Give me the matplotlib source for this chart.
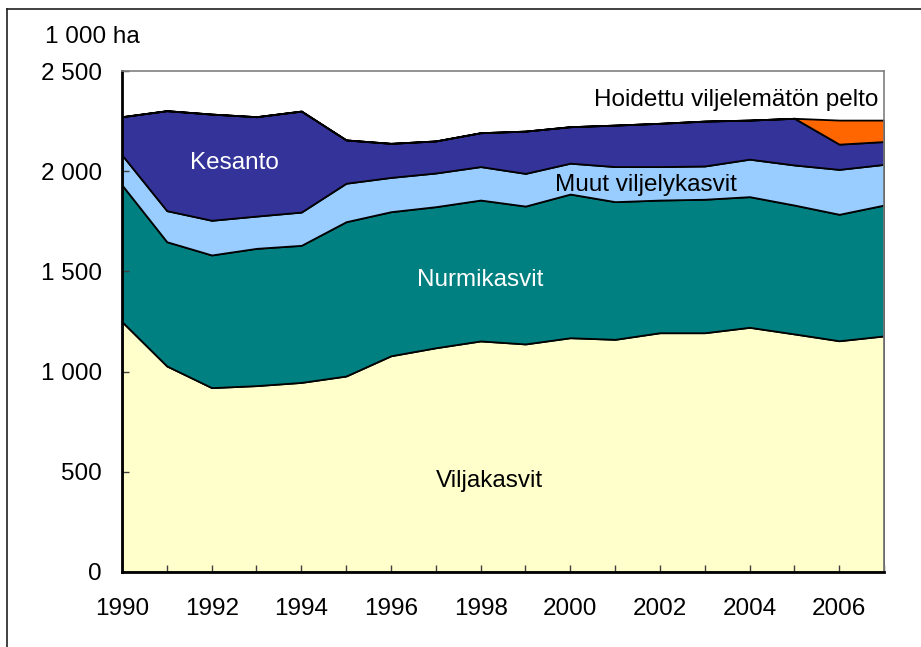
import matplotlib
matplotlib.use("Agg")
import matplotlib.pyplot as plt
from matplotlib.lines import Line2D
import numpy as np

plt.rcParams['font.family'] = ['Liberation Sans', 'DejaVu Sans']

years = list(range(1990, 2008))
viljakasvit = [1249, 1028, 920, 930, 946, 978, 1079, 1119, 1153, 1138, 1169, 1161, 1194, 1194, 1221, 1188, 1154, 1178]
nurmikasvit = [682, 620, 662, 685, 684, 770, 719, 704, 703, 688, 717, 687, 662, 666, 652, 643, 631, 653]
muut_viljelykasvit = [150, 155, 173, 161, 166, 192, 171, 168, 167, 163, 154, 175, 167, 166, 187, 200, 224, 203]
kesanto = [191, 499, 530, 496, 504, 216, 170, 160, 169, 211, 182, 207, 216, 224, 195, 233, 126, 114]
hoidettu = [0, 0, 0, 0, 0, 0, 0, 0, 0, 0, 0, 0, 0, 0, 0, 0, 120, 107]

series_labels = ["Viljakasvit", "Nurmikasvit", "Muut viljelykasvit", "Kesanto", "Hoidettu viljelemätön pelto"]
colors = ["#FFFFCC", "#008080", "#99CCFF", "#333399", "#FF6600"]
y_ticks = [0, 500, 1000, 1500, 2000, 2500]
y_ticklabels = ["0", "500", "1 000", "1 500", "2 000", "2 500"]
x_ticklabel_years = list(range(1990, 2007, 2))

FS = 17.5

fig = plt.figure(figsize=(9.21, 6.47), dpi=100)
ax = fig.add_axes([122/921, 1 - 572/647, (884-122)/921, (572-71)/647])

ax.stackplot(years, viljakasvit, nurmikasvit, muut_viljelykasvit, kesanto, hoidettu,
             colors=colors, edgecolor="black", linewidth=1.3, labels=series_labels)

ax.set_xlim(1990, 2007)
ax.set_ylim(0, 2500)
ax.set_yticks(y_ticks)
ax.set_yticklabels(y_ticklabels)
ax.set_xticks(years, minor=False)
ax.set_xticklabels([str(y) if y in x_ticklabel_years else "" for y in years])
ax.tick_params(axis='x', direction='in', length=5, width=1, pad=19, labelsize=FS, color='#404040')
ax.tick_params(axis='y', direction='in', length=5, width=1, pad=14.5, labelsize=FS, color='#404040')

for side in ['left', 'bottom']:
    ax.spines[side].set_linewidth(2)
    ax.spines[side].set_color('black')
for side in ['top', 'right']:
    ax.spines[side].set_linewidth(1.2)
    ax.spines[side].set_color('#808080')

ax.text(1992.5, 2040, "Kesanto", color="white", fontsize=FS, ha="center", va="center")
ax.text(1998.0, 1457, "Nurmikasvit", color="white", fontsize=FS, ha="center", va="center")
ax.text(2001.7, 1931, "Muut viljelykasvit", color="black", fontsize=FS, ha="center", va="center")
ax.text(1998.2, 454, "Viljakasvit", color="black", fontsize=FS, ha="center", va="center")
ax.text(2006.87, 2355, "Hoidettu viljelemätön pelto", color="black", fontsize=FS, ha="right", va="center")

fig.text(45/921, 1 - 37/647, "1 000 ha", fontsize=FS, ha="left", va="center")

# outer frame lines
fig.add_artist(Line2D([7/921, 1], [1 - 9/647, 1 - 9/647], color="#202020", lw=1.2, transform=fig.transFigure))
fig.add_artist(Line2D([7/921, 7/921], [0, 1 - 9/647], color="#202020", lw=1.2, transform=fig.transFigure))

fig.savefig("out.png", dpi=100)
